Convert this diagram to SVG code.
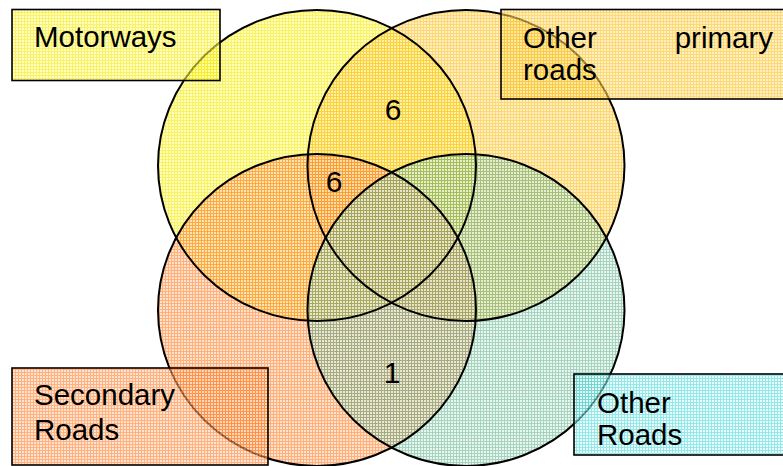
<svg xmlns="http://www.w3.org/2000/svg" width="783" height="466" viewBox="0 0 783 466">
  <defs>
    <!-- fine grid fills, one per road class -->
    <pattern id="gridYellow" width="3" height="3" patternUnits="userSpaceOnUse">
      <rect width="3" height="3" fill="#FFFFA0"/>
      <path d="M0 0.5H3M0.5 0V3" stroke="#F7EA00" stroke-width="1"/>
    </pattern>
    <pattern id="gridGold" width="3" height="3" patternUnits="userSpaceOnUse">
      <rect width="3" height="3" fill="#FFE59A"/>
      <path d="M0 0.5H3M0.5 0V3" stroke="#F8C020" stroke-width="1"/>
    </pattern>
    <pattern id="gridOrange" width="3" height="3" patternUnits="userSpaceOnUse">
      <rect width="3" height="3" fill="#FFD0B0"/>
      <path d="M0 0.5H3M0.5 0V3" stroke="#FF7F2A" stroke-width="1"/>
    </pattern>
    <pattern id="gridTeal" width="3" height="3" patternUnits="userSpaceOnUse">
      <rect width="3" height="3" fill="#D4EEE2"/>
      <path d="M0 0.5H3M0.5 0V3" stroke="#4FA884" stroke-width="1"/>
    </pattern>
    <pattern id="gridCyan" width="3" height="3" patternUnits="userSpaceOnUse">
      <rect width="3" height="3" fill="#D4FFFF"/>
      <path d="M0 0.5H3M0.5 0V3" stroke="#55D6D6" stroke-width="1"/>
    </pattern>
  </defs>
  <style>
    .set { stroke: none; fill-opacity: 0.62; }
    #set-other-roads .set { fill-opacity: 0.5; }
    .rim { fill: none; stroke: #000; stroke-width: 2; }
    .box { stroke: #000; stroke-width: 1.6; fill-opacity: 0.6; }
    .lbl { font-family: "Liberation Sans", Arial, sans-serif; font-size: 29.5px; fill: #000; }
    .num { font-family: "Liberation Sans", Arial, sans-serif; font-size: 30px; fill: #000; text-anchor: middle; }
  </style>

  <rect width="783" height="466" fill="#fff"/>

  <!-- the four road-class sets (tinted areas) -->
  <g id="set-motorways">
    <ellipse class="set" cx="317" cy="165.5" rx="159" ry="155.5" fill="url(#gridYellow)"/>
  </g>
  <g id="set-other-primary">
    <ellipse class="set" cx="466" cy="165.5" rx="158.5" ry="155.5" fill="url(#gridGold)"/>
  </g>
  <g id="set-secondary">
    <ellipse class="set" cx="317" cy="310" rx="159" ry="156" fill="url(#gridOrange)"/>
  </g>
  <g id="set-other-roads">
    <ellipse class="set" cx="466" cy="310" rx="158.5" ry="156" fill="url(#gridTeal)"/>
  </g>

  <!-- set outlines, kept above all tints -->
  <g id="set-outlines">
    <ellipse class="rim" cx="317" cy="165.5" rx="159" ry="155.5"/>
    <ellipse class="rim" cx="466" cy="165.5" rx="158.5" ry="155.5"/>
    <ellipse class="rim" cx="317" cy="310" rx="159" ry="156"/>
    <ellipse class="rim" cx="466" cy="310" rx="158.5" ry="156"/>
  </g>

  <!-- counts in the overlap regions -->
  <g id="counts">
    <text class="num" x="393" y="120">6</text>
    <text class="num" x="334" y="192">6</text>
    <text class="num" x="392" y="383">1</text>
  </g>

  <!-- legend boxes -->
  <g id="label-motorways">
    <rect class="box" x="12" y="9.5" width="208" height="71" fill="url(#gridYellow)"/>
    <text class="lbl" x="34" y="46.5">Motorways</text>
  </g>
  <g id="label-other-primary">
    <rect class="box" x="501" y="9.5" width="300" height="89.5" fill="url(#gridGold)"/>
    <text class="lbl" x="523" y="48">Other</text>
    <text class="lbl" x="773" y="48" text-anchor="end">primary</text>
    <text class="lbl" x="523" y="80">roads</text>
  </g>
  <g id="label-secondary">
    <rect class="box" x="12" y="368" width="256" height="97" fill="url(#gridOrange)"/>
    <text class="lbl" x="34" y="405">Secondary</text>
    <text class="lbl" x="34" y="440">Roads</text>
  </g>
  <g id="label-other-roads">
    <rect class="box" x="574" y="374" width="230" height="81" fill="url(#gridCyan)"/>
    <text class="lbl" x="597" y="413">Other</text>
    <text class="lbl" x="597" y="445">Roads</text>
  </g>

  <!-- no connectors in this diagram -->
  <g id="connectors"/>
</svg>
